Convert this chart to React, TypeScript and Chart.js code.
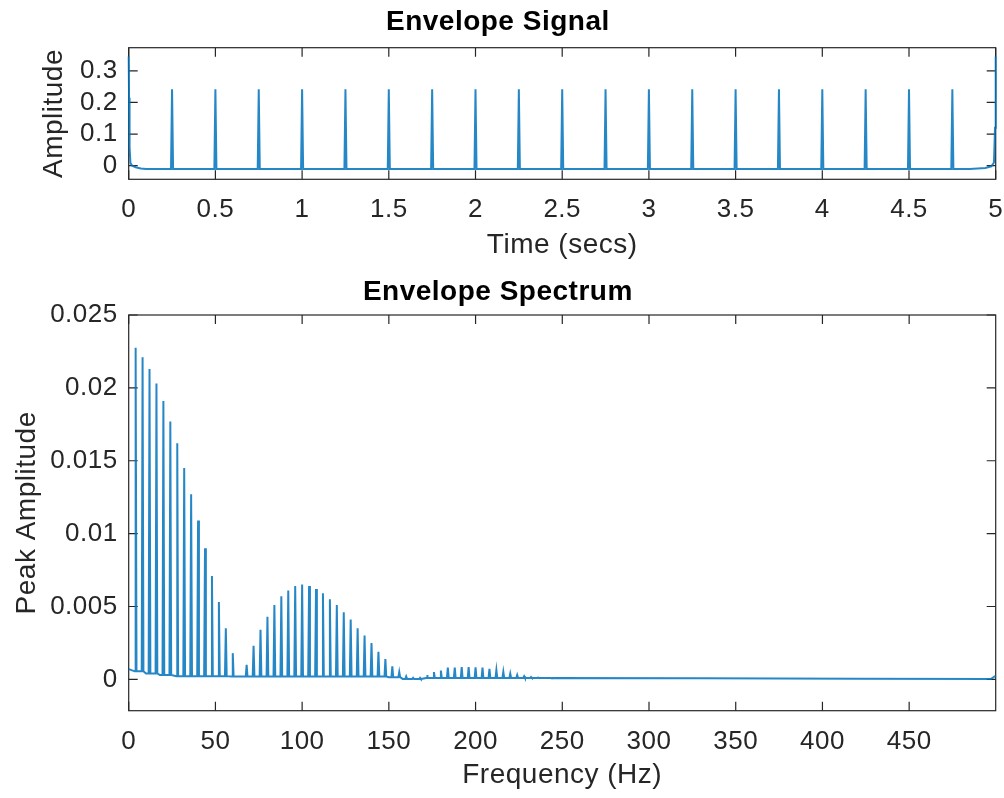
import React, { useEffect, useRef } from 'react';
import { Chart, registerables } from 'chart.js';

Chart.register(...registerables);

// ---------- Envelope signal (top) ----------
const pulseTimes = [0.25, 0.5, 0.75, 1, 1.25, 1.5, 1.75, 2, 2.25, 2.5, 2.75, 3, 3.25, 3.5, 3.75, 4, 4.25, 4.5, 4.75];
const pulsePeaks = [0.242, 0.242, 0.242, 0.242, 0.242, 0.242, 0.242, 0.242, 0.242, 0.242, 0.242, 0.242, 0.242, 0.242, 0.242, 0.242, 0.242, 0.242, 0.242];
const pulseFloor = -0.0105;
const startTimes = [0, 0.002, 0.005, 0.01, 0.02, 0.04, 0.07, 0.1];
const startValues = [0.345, 0.215, 0.06, 0.008, 0.0, -0.005, -0.009, -0.0105];
const endTimes = [4.85, 4.94, 4.975, 4.99, 4.996, 5];
const endValues = [-0.0105, -0.007, -0.002, 0.01, 0.12, 0.345];

const signalXTicks = [0, 0.5, 1, 1.5, 2, 2.5, 3, 3.5, 4, 4.5, 5];
const signalXLabels = ['0', '0.5', '1', '1.5', '2', '2.5', '3', '3.5', '4', '4.5', '5'];
const signalYTicks = [0, 0.1, 0.2, 0.3];
const signalYLabels = ['0', '0.1', '0.2', '0.3'];
const signalXRange = [0, 5];
const signalYRange = [-0.043, 0.373];

// ---------- Envelope spectrum (bottom) ----------
const harmonicFreqs = [4, 8, 12, 16, 20, 24, 28, 32, 36, 40, 44, 48, 52, 56, 60, 64, 68, 72, 76, 80, 84, 88, 92, 96, 100, 104, 108, 112, 116, 120, 124, 128, 132, 136, 140, 144, 148, 152, 156, 160, 164, 168, 172, 176, 180, 184, 188, 192, 196, 200, 204, 208, 212, 216, 220, 224, 228, 232, 236, 240, 244];
const harmonicPeaks = [0.02275, 0.0221, 0.0213, 0.0203, 0.0191, 0.0177, 0.0162, 0.0145, 0.0127, 0.0109, 0.009, 0.0071, 0.0053, 0.0035, 0.0018, 0.0002, 0.001, 0.0023, 0.0034, 0.0043, 0.0051, 0.0057, 0.0061, 0.0064, 0.0065, 0.0064, 0.0062, 0.0059, 0.0055, 0.0051, 0.0046, 0.0041, 0.0035, 0.003, 0.0025, 0.0019, 0.0014, 0.0009, 0.0005, 0.0002, 0.0001, 0.0001, 0.0003, 0.0005, 0.0006, 0.0008, 0.0008, 0.00085, 0.00085, 0.00083, 0.0008, 0.00073, 0.00064, 0.00052, 0.0004, 0.0003, 0.00022, 0.00016, 0.00012, 0.0001, 0.00008];
const floorFreqs = [0, 4, 10, 18, 28, 60, 150, 158, 172, 240, 330, 420, 497, 499.9];
const floorLevels = [0.0007, 0.00055, 0.0004, 0.0003, 0.00022, 0.0002, 0.00015, 0.00003, 0.0001, 0.0001, 0.00007, 0.00004, 0.00002, 0.00025];

const spectrumXTicks = [0, 50, 100, 150, 200, 250, 300, 350, 400, 450];
const spectrumXLabels = ['0', '50', '100', '150', '200', '250', '300', '350', '400', '450'];
const spectrumYTicks = [0, 0.005, 0.01, 0.015, 0.02, 0.025];
const spectrumYLabels = ['0', '0.005', '0.01', '0.015', '0.02', '0.025'];
const spectrumXRange = [0, 499.9];
const spectrumYRange = [-0.00215, 0.025];

const LINE_COLOR = 'rgba(0,114,189,0.85)';
const AXIS_COLOR = '#262626';
const FONT = '"Liberation Sans", Arial, Helvetica, sans-serif';
const LETTER_SPACING = '0.5px';

function buildSignalPoints() {
  const pts: { x: number; y: number }[] = [];
  startTimes.forEach((t, i) => pts.push({ x: t, y: startValues[i] }));
  pulseTimes.forEach((t, i) => {
    pts.push({ x: t - 0.006, y: pulseFloor });
    pts.push({ x: t, y: pulsePeaks[i] });
    pts.push({ x: t + 0.006, y: pulseFloor });
  });
  endTimes.forEach((t, i) => pts.push({ x: t, y: endValues[i] }));
  return pts;
}

function floorAt(f: number) {
  let lvl = floorLevels[0];
  for (let i = 0; i < floorFreqs.length; i++) if (floorFreqs[i] <= f) lvl = floorLevels[i];
  return lvl;
}

function buildSpectrumPoints() {
  const pts: { x: number; y: number }[] = [];
  floorFreqs.forEach((f, i) => pts.push({ x: f, y: floorLevels[i] }));
  harmonicFreqs.forEach((f, i) => {
    const b = floorAt(f);
    pts.push({ x: f - 0.5, y: b });
    pts.push({ x: f, y: harmonicPeaks[i] });
    pts.push({ x: f + 0.5, y: b });
  });
  pts.sort((a, b) => a.x - b.x);
  return pts;
}

const boxPlugin = {
  id: 'matlabBox',
  beforeLayout(chart: any) {
    (chart.ctx as any).letterSpacing = LETTER_SPACING;
  },
  beforeDraw(chart: any) {
    (chart.ctx as any).letterSpacing = LETTER_SPACING;
    const { ctx, width, height } = chart;
    ctx.save();
    ctx.fillStyle = '#ffffff';
    ctx.fillRect(0, 0, width, height);
    ctx.restore();
  },
  beforeDatasetsDraw(chart: any) {
    const { ctx, chartArea: a, scales } = chart;
    ctx.save();
    ctx.strokeStyle = AXIS_COLOR;
    ctx.lineWidth = 1.2;
    ctx.strokeRect(a.left, a.top, a.right - a.left, a.bottom - a.top);
    const L = 9;
    ctx.beginPath();
    scales.x.ticks.forEach((t: any) => {
      const px = scales.x.getPixelForValue(t.value);
      ctx.moveTo(px, a.bottom);
      ctx.lineTo(px, a.bottom - L);
      ctx.moveTo(px, a.top);
      ctx.lineTo(px, a.top + L);
    });
    scales.y.ticks.forEach((t: any) => {
      const py = scales.y.getPixelForValue(t.value);
      ctx.moveTo(a.left, py);
      ctx.lineTo(a.left + L, py);
      ctx.moveTo(a.right, py);
      ctx.lineTo(a.right - L, py);
    });
    ctx.stroke();
    ctx.restore();
  },
};

type PanelSpec = {
  points: { x: number; y: number }[];
  lineWidth: number;
  title: string;
  titlePad: { top: number; bottom: number };
  xTitle: string;
  xTitlePadBottom: number;
  yTitle: string;
  yTitlePadTop: number;
  xTicks: number[];
  xLabels: string[];
  yTicks: number[];
  yLabels: string[];
  xRange: number[];
  yRange: number[];
  xAxisHeight: number;
  xTickPad: number;
};

function makeConfig(p: PanelSpec): any {
  return {
    type: 'line',
    data: {
      datasets: [
        {
          data: p.points,
          borderColor: LINE_COLOR,
          borderWidth: p.lineWidth,
          pointRadius: 0,
          tension: 0,
          fill: false,
          clip: { left: 2, right: 2, top: 0, bottom: 0 },
        },
      ],
    },
    options: {
      animation: false,
      responsive: false,
      events: [],
      layout: { padding: { left: 0, right: 8.3, top: 0, bottom: 0 } },
      plugins: {
        legend: { display: false },
        tooltip: { enabled: false },
        title: {
          display: true,
          text: p.title,
          color: '#000000',
          font: { family: FONT, size: 28, weight: 'bold' },
          padding: p.titlePad,
        },
      },
      scales: {
        x: {
          type: 'linear',
          position: 'bottom',
          min: p.xRange[0],
          max: p.xRange[1],
          grid: { display: false, drawTicks: false },
          border: { display: false },
          afterBuildTicks: (s: any) => {
            s.ticks = p.xTicks.map((v) => ({ value: v }));
          },
          afterFit: (s: any) => {
            s.height = p.xAxisHeight;
            s.paddingLeft = 0;
            s.paddingRight = 0;
          },
          ticks: {
            autoSkip: false,
            maxRotation: 0,
            color: AXIS_COLOR,
            padding: p.xTickPad,
            font: { family: FONT, size: 26 },
            callback: (_v: any, i: number) => p.xLabels[i],
          },
          title: {
            display: true,
            text: p.xTitle,
            color: AXIS_COLOR,
            font: { family: FONT, size: 28 },
            padding: { top: 0, bottom: p.xTitlePadBottom },
          },
        },
        y: {
          type: 'linear',
          position: 'left',
          min: p.yRange[0],
          max: p.yRange[1],
          grid: { display: false, drawTicks: false },
          border: { display: false },
          afterBuildTicks: (s: any) => {
            s.ticks = p.yTicks.map((v) => ({ value: v }));
          },
          afterFit: (s: any) => {
            s.width = 128.7;
            s.paddingTop = 0;
            s.paddingBottom = 0;
          },
          ticks: {
            autoSkip: false,
            color: AXIS_COLOR,
            padding: 11,
            font: { family: FONT, size: 26 },
            callback: (_v: any, i: number) => p.yLabels[i],
          },
          title: {
            display: true,
            text: p.yTitle,
            color: AXIS_COLOR,
            font: { family: FONT, size: 28 },
            padding: { top: p.yTitlePadTop, bottom: 0 },
          },
        },
      },
    },
    plugins: [boxPlugin],
  };
}

export default function App() {
  const topRef = useRef<HTMLCanvasElement>(null);
  const bottomRef = useRef<HTMLCanvasElement>(null);

  useEffect(() => {
    const top = new Chart(
      topRef.current!,
      makeConfig({
        points: buildSignalPoints(),
        lineWidth: 2,
        title: 'Envelope Signal',
        titlePad: { top: 5.2, bottom: 8.9 },
        xTitle: 'Time (secs)',
        xTitlePadBottom: 0.2,
        yTitle: 'Amplitude',
        yTitlePadTop: 37.2,
        xTicks: signalXTicks,
        xLabels: signalXLabels,
        yTicks: signalYTicks,
        yLabels: signalYLabels,
        xRange: signalXRange,
        yRange: signalYRange,
        xAxisHeight: 82.7,
        xTickPad: 15.1,
      })
    );
    const bottom = new Chart(
      bottomRef.current!,
      makeConfig({
        points: buildSpectrumPoints(),
        lineWidth: 2,
        title: 'Envelope Spectrum',
        titlePad: { top: 13.2, bottom: 6.2 },
        xTitle: 'Frequency (Hz)',
        xTitlePadBottom: 6.2,
        yTitle: 'Peak Amplitude',
        yTitlePadTop: 10.2,
        xTicks: spectrumXTicks,
        xLabels: spectrumXLabels,
        yTicks: spectrumYTicks,
        yLabels: spectrumYLabels,
        xRange: spectrumXRange,
        yRange: spectrumYRange,
        xAxisHeight: 87.3,
        xTickPad: 15.4,
      })
    );
    return () => {
      top.destroy();
      bottom.destroy();
    };
  }, []);

  return (
    <div style={{ position: 'absolute', left: 0, top: 0, width: 1004, height: 798, background: '#ffffff' }}>
      <canvas ref={topRef} width={1004} height={262} style={{ position: 'absolute', left: 0, top: 0, width: 1004, height: 262 }} />
      <canvas ref={bottomRef} width={1004} height={536} style={{ position: 'absolute', left: 0, top: 262, width: 1004, height: 536 }} />
    </div>
  );
}
